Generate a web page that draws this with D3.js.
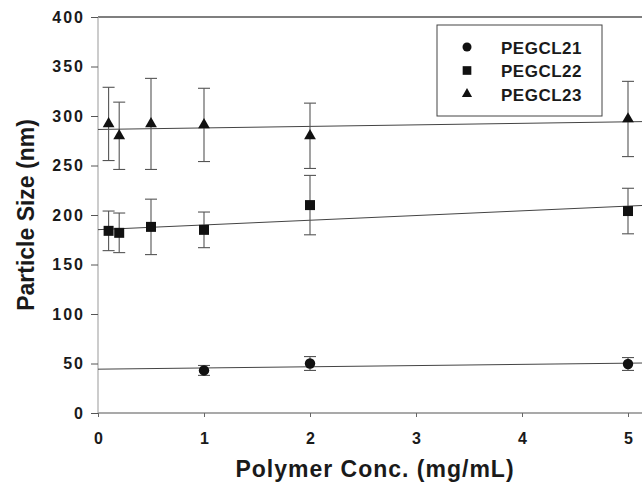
<!DOCTYPE html>
<html>
<head>
<meta charset="utf-8">
<script src="https://cdn.jsdelivr.net/npm/d3@7"></script>
<style>
body { margin: 0; background: #fff; }
svg { display: block; font-family: Arial, "Liberation Sans", sans-serif; }
.axis text { font-weight: bold; fill: #1a1a1a; }
</style>
</head>
<body>
<script>
// data
var seriesNames = ['PEGCL21', 'PEGCL22', 'PEGCL23']
var symbols = [d3.symbolCircle, d3.symbolSquare, d3.symbolTriangle]

var concPEGCL21 = [1, 2, 5]
var sizePEGCL21 = [43, 50, 49.5]
var errPEGCL21 = [5, 7, 6.5]

var concPEGCL22 = [0.1, 0.2, 0.5, 1, 2, 5]
var sizePEGCL22 = [184, 182, 188, 185, 210, 204]
var errPEGCL22 = [20, 20, 28, 18, 30, 23]

var concPEGCL23 = [0.1, 0.2, 0.5, 1, 2, 5]
var sizePEGCL23 = [292, 280, 292, 291, 280, 297]
var errPEGCL23 = [37, 34, 46, 37, 33, 38]

var xTicks = [0, 1, 2, 3, 4, 5]
var yTicks = [0, 50, 100, 150, 200, 250, 300, 350, 400]

var W = 642, H = 482

var series = [
    { name: seriesNames[0], symbol: symbols[0], xs: concPEGCL21, ys: sizePEGCL21, es: errPEGCL21, size: 85 },
    { name: seriesNames[1], symbol: symbols[1], xs: concPEGCL22, ys: sizePEGCL22, es: errPEGCL22, size: 100 },
    { name: seriesNames[2], symbol: symbols[2], xs: concPEGCL23, ys: sizePEGCL23, es: errPEGCL23, size: 60 }
]

var x = d3.scaleLinear().domain([0, 5]).range([98, 628])
var y = d3.scaleLinear().domain([0, 400]).range([413, 17])
var xEnd = x.invert(W)

var svg = d3.select('body').append('svg')
    .attr('width', W)
    .attr('height', H)

// frame lines
svg.append('line')
    .attr('x1', x(0)).attr('x2', W)
    .attr('y1', y(400)).attr('y2', y(400))
    .attr('stroke', '#555').attr('stroke-width', 1.5)

svg.append('line')
    .attr('x1', x(0)).attr('x2', W)
    .attr('y1', y(0)).attr('y2', y(0))
    .attr('stroke', '#555').attr('stroke-width', 1.2)

svg.append('line')
    .attr('x1', x(0)).attr('x2', x(0))
    .attr('y1', y(0)).attr('y2', y(400))
    .attr('stroke', '#aaa').attr('stroke-width', 1.2)

var yAxis = d3.axisLeft(y)
    .tickValues(yTicks)
    .tickSize(7)
    .tickSizeOuter(0)
    .tickPadding(6)

var gy = svg.append('g')
    .attr('class', 'axis')
    .attr('transform', 'translate(' + x(0) + ',0)')
    .call(yAxis)
gy.select('.domain').remove()
gy.selectAll('line').attr('stroke', '#555')
gy.selectAll('text')
    .style('font-size', '16px')
    .style('letter-spacing', '2px')

var xAxis = d3.axisBottom(x)
    .tickValues(xTicks)
    .tickFormat(d3.format('d'))
    .tickSize(4)
    .tickSizeOuter(0)
    .tickPadding(16)

var gx = svg.append('g')
    .attr('class', 'axis')
    .attr('transform', 'translate(0,' + y(0) + ')')
    .call(xAxis)
gx.select('.domain').remove()
gx.selectAll('line').attr('stroke', '#666')
gx.selectAll('text').style('font-size', '16px')

// axis titles
svg.append('text')
    .attr('x', 375)
    .attr('y', 477)
    .attr('text-anchor', 'middle')
    .style('font-size', '23px')
    .style('font-weight', 'bold')
    .style('letter-spacing', '1px')
    .attr('fill', '#1a1a1a')
    .text('Polymer Conc. (mg/mL)')

svg.append('text')
    .attr('transform', 'translate(34,215) rotate(-90)')
    .attr('text-anchor', 'middle')
    .style('font-size', '23px')
    .style('font-weight', 'bold')
    .attr('fill', '#1a1a1a')
    .text('Particle Size (nm)')

// least squares trend line for each series
function fit(xs, ys) {
    var mx = d3.mean(xs), my = d3.mean(ys)
    var sxy = d3.sum(xs, function (v, i) { return (v - mx) * (ys[i] - my) })
    var sxx = d3.sum(xs, function (v) { return (v - mx) * (v - mx) })
    var b = sxy / sxx
    return { a: my - b * mx, b: b }
}

series.forEach(function (s) {
    var f = fit(s.xs, s.ys)
    svg.append('line')
        .attr('x1', x(0)).attr('y1', y(f.a))
        .attr('x2', W).attr('y2', y(f.a + f.b * xEnd))
        .attr('stroke', '#444')
        .attr('stroke-width', 1)
})

// error bars and markers
var cap = 6
series.forEach(function (s) {
    var pts = s.xs.map(function (v, i) { return { x: v, y: s.ys[i], e: s.es[i] } })
    var g = svg.append('g').attr('class', 'series')

    var eb = g.selectAll('.err')
        .data(pts)
        .enter().append('g')
        .attr('class', 'err')
        .attr('stroke', '#555')
        .attr('stroke-width', 1.1)

    eb.append('line')
        .attr('x1', function (d) { return x(d.x) })
        .attr('x2', function (d) { return x(d.x) })
        .attr('y1', function (d) { return y(d.y - d.e) })
        .attr('y2', function (d) { return y(d.y + d.e) })
    eb.append('line')
        .attr('x1', function (d) { return x(d.x) - cap })
        .attr('x2', function (d) { return x(d.x) + cap })
        .attr('y1', function (d) { return y(d.y + d.e) })
        .attr('y2', function (d) { return y(d.y + d.e) })
    eb.append('line')
        .attr('x1', function (d) { return x(d.x) - cap })
        .attr('x2', function (d) { return x(d.x) + cap })
        .attr('y1', function (d) { return y(d.y - d.e) })
        .attr('y2', function (d) { return y(d.y - d.e) })

    g.selectAll('.pt')
        .data(pts)
        .enter().append('path')
        .attr('class', 'pt')
        .attr('d', d3.symbol().type(s.symbol).size(s.size))
        .attr('transform', function (d) { return 'translate(' + x(d.x) + ',' + y(d.y) + ')' })
        .attr('fill', '#111')
})

// legend
var legend = svg.append('g').attr('transform', 'translate(437,25)')
legend.append('rect')
    .attr('width', 165)
    .attr('height', 91)
    .attr('fill', '#fff')
    .attr('stroke', '#444')
    .attr('stroke-width', 1)

var rows = legend.selectAll('.row')
    .data(series)
    .enter().append('g')
    .attr('class', 'row')
    .attr('transform', function (d, i) { return 'translate(0,' + (22 + i * 23.5) + ')' })

rows.append('path')
    .attr('d', function (d) { return d3.symbol().type(d.symbol).size(d.size * 0.75)() })
    .attr('transform', 'translate(30,0)')
    .attr('fill', '#111')

rows.append('text')
    .attr('x', 64)
    .attr('y', 6.5)
    .style('font-size', '17px')
    .style('font-weight', 'bold')
    .style('letter-spacing', '0.5px')
    .attr('fill', '#1a1a1a')
    .text(function (d) { return d.name })
</script>
</body>
</html>
